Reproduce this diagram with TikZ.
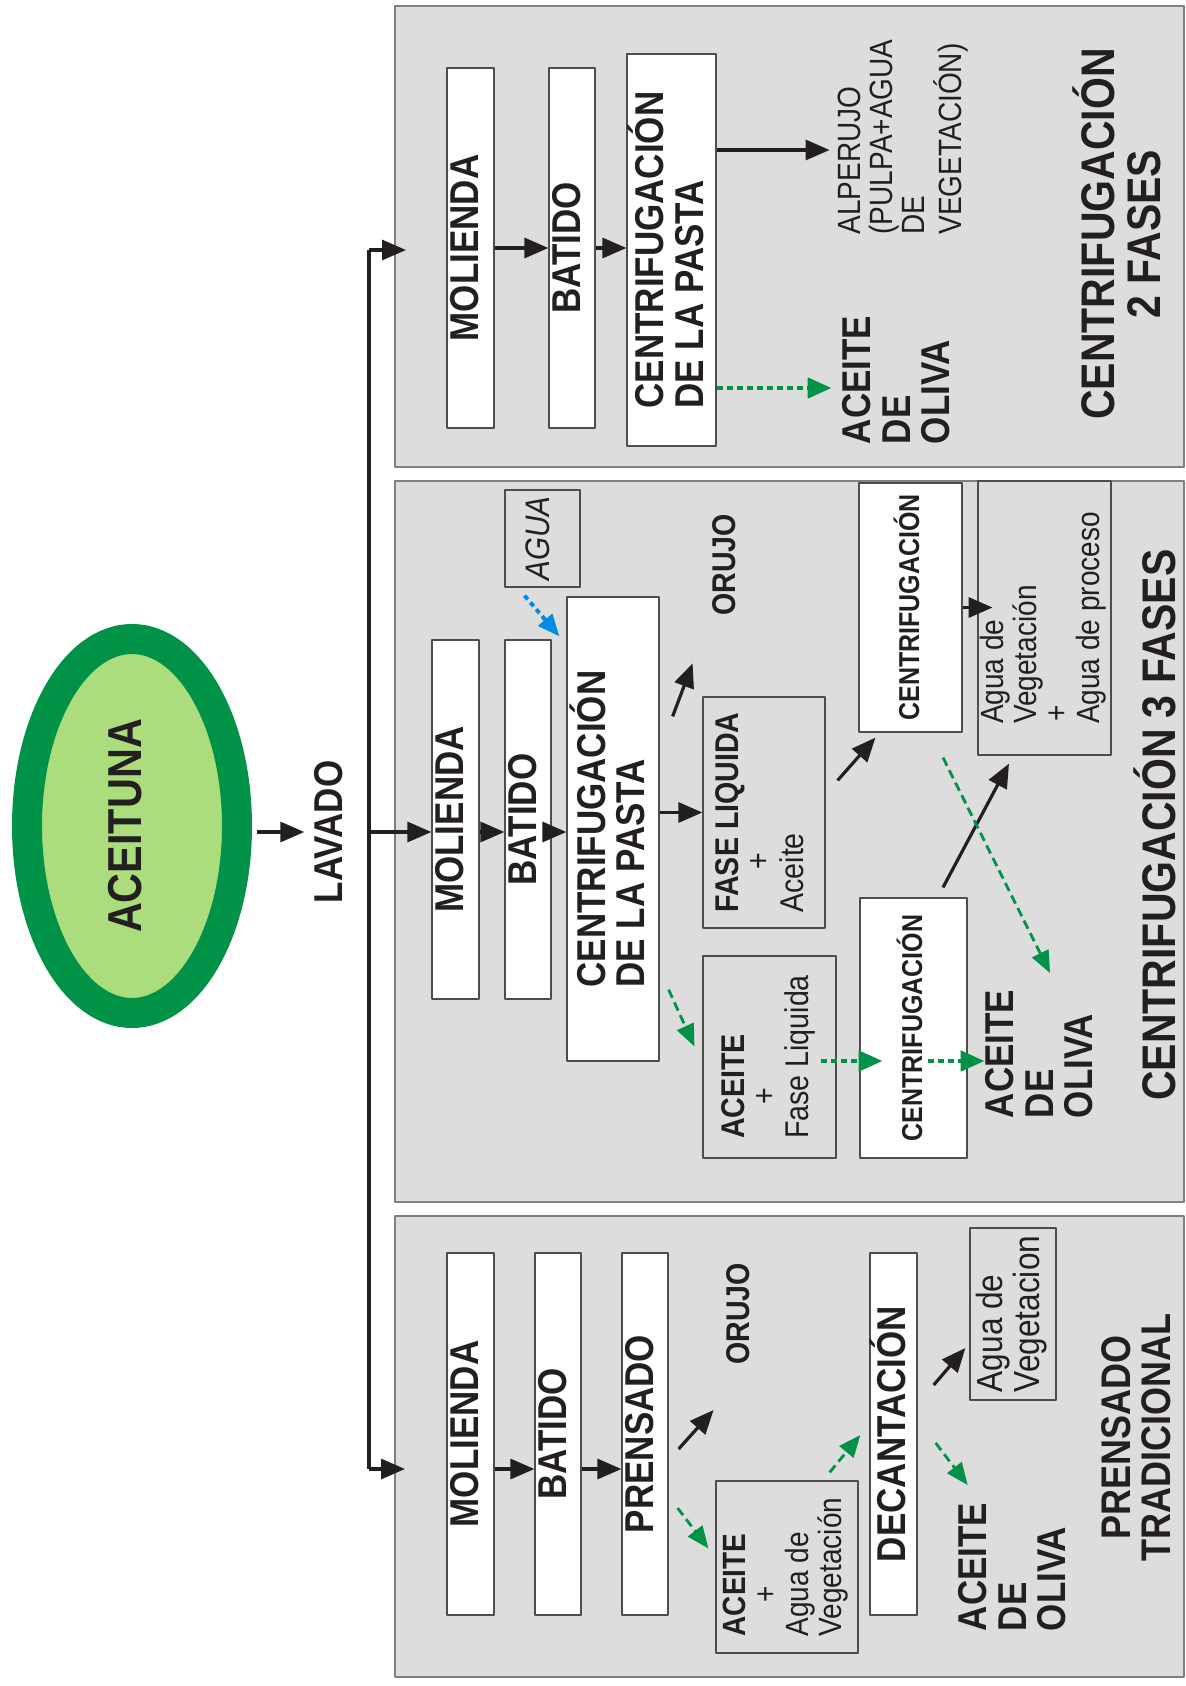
\documentclass[tikz,border=0pt]{standalone}
\usepackage{fontspec}
\setmainfont{Liberation Sans}
\usepackage{graphicx}
\usetikzlibrary{arrows.meta,calc,shapes.geometric}

\definecolor{negro}{RGB}{35,31,32}
\definecolor{verdeoliva}{RGB}{0,146,70}
\definecolor{verdeclaro}{RGB}{171,221,125}
\definecolor{grisfondo}{RGB}{221,221,221}
\definecolor{azulagua}{RGB}{0,140,230}

% texto girado (se lee de abajo hacia arriba)
\newcommand{\vtext}[2][l]{\rotatebox{90}{\scalebox{1}[1.15]{\begin{tabular}{@{}#1@{}}#2\end{tabular}}}}
\renewcommand{\arraystretch}{0.95}

\tikzset{
  panelbox/.style={draw=gray, fill=grisfondo, line width=0.8pt},
  stepbox/.style={draw=negro!80, fill=white, line width=0.6pt, inner sep=0pt, text=negro},
  sidebox/.style={draw=negro!80, line width=0.6pt, inner sep=0pt, text=negro},
  etiq/.style={inner sep=0pt, text=negro},
  fbig/.style={font=\fontsize{17.5}{17.5}\selectfont\bfseries},
  ftit/.style={font=\fontsize{20.5}{20.5}\selectfont\bfseries},
  fmed/.style={font=\fontsize{14}{14}\selectfont},
  fmedb/.style={font=\fontsize{14.3}{14.3}\selectfont\bfseries},
  fcen/.style={font=\fontsize{12.5}{12.5}\selectfont\bfseries},
  flecha/.style={draw=negro, line width=1.6pt, -{Triangle[length=12pt,width=10pt]}},
  aceitefl/.style={draw=verdeoliva, line width=2.4pt, dash pattern=on 3pt off 2pt, -{Triangle[length=12pt,width=10pt]}},
  aceitediag/.style={draw=verdeoliva, line width=1.4pt, dash pattern=on 4.5pt off 2.5pt, -{Triangle[length=11pt,width=9pt]}},
  aguafl/.style={draw=azulagua, line width=2pt, dash pattern=on 2.5pt off 2pt, -{Triangle[length=11pt,width=9pt]}},
}

\begin{document}
\begin{tikzpicture}[x=0.5pt, y=-0.5pt, line join=round]
    \useasboundingbox (0,0) rectangle (1186,1686);
    \fill[white] (0,0) rectangle (1186,1686);

    % paneles de fondo
    \draw[panelbox] (395,6) rectangle (1184,467);
    \draw[panelbox] (395,481) rectangle (1184,1202);
    \draw[panelbox] (395,1216) rectangle (1184,1677);

    % aceituna y lavado
    \node[ellipse, draw=verdeoliva, fill=verdeclaro, line width=15pt, minimum width=105pt, minimum height=187pt,
          inner sep=0pt, outer sep=0pt, text=negro, font=\fontsize{20.7}{20.7}\selectfont\bfseries] (aceituna) at (132,826) {\vtext{ACEITUNA}};
    \node[etiq, fbig] (lavado) at (334.5,832) {\vtext{LAVADO}};
    \draw[flecha, shorten <=10pt, shorten >=5pt] (aceituna.east |- lavado) -- (lavado.west);

    % linea de reparto
    \coordinate (bus2) at (369,250);
    \coordinate (bus3) at (369,832);
    \coordinate (bus1) at (369,1469);
    \draw[negro, line width=1.8pt] (bus2) -- (bus1);

    % centrifugacion 2 fases
    \node[stepbox, fbig, minimum width=23.5pt, minimum height=180pt] (mol2) at (470.5,248) {\vtext{MOLIENDA}};
    \node[stepbox, fbig, minimum width=23pt, minimum height=180pt] (bat2) at (572,248) {\vtext{BATIDO}};
    \node[stepbox, fbig, minimum width=44.5pt, minimum height=196pt] (cen2) at (671.5,250) {\vtext{CENTRIFUGACIÓN\\DE LA PASTA}};
    \node[etiq, fmed] (alp2) at (904,137) {\vtext{ALPERUJO\\(PULPA+AGUA\\DE\\VEGETACIÓN)}};
    \node[etiq, fbig] (ace2) at (902,380) {\vtext{ACEITE\\DE\\OLIVA}};
    \node[etiq, ftit] (tit2) at (1123,234) {\vtext[c]{CENTRIFUGACIÓN\\2 FASES}};
    \draw[flecha] (bus2) -- ++(37,0);
    \draw[flecha] (mol2.east) -- (bat2.west);
    \draw[flecha] (bat2.east) -- (cen2.west |- bat2.east);
    \draw[flecha] ($(cen2.east)+(0,-100)$) -- ++(113,0);
    \draw[aceitefl] ($(cen2.east)+(0,138)$) -- ++(115,0);

    % centrifugacion 3 fases
    \node[sidebox, font=\fontsize{14.8}{14.8}\selectfont\itshape, minimum width=37.5pt, minimum height=48.5pt] (agua3) at (542.5,538.5) {\vtext{AGUA}};
    \node[stepbox, fbig, minimum width=23.5pt, minimum height=179.5pt] (mol3) at (455.5,819.5) {\vtext{MOLIENDA}};
    \node[stepbox, fbig, minimum width=23pt, minimum height=179.5pt] (bat3) at (528,819.5) {\vtext{BATIDO}};
    \node[stepbox, fbig, minimum width=46pt, minimum height=232pt] (cen3) at (613,829) {\vtext{CENTRIFUGACIÓN\\DE LA PASTA}};
    \node[etiq, fmedb] (oru3) at (728.5,565) {\vtext{ORUJO}};
    \node[sidebox, font=\fontsize{14.3}{14.3}\selectfont, minimum width=61pt, minimum height=115.5pt] (fase3) at (764,812.5)
        {\vtext{\bfseries FASE LIQUIDA\\\hspace{1.5em}+\\Aceite}};
    \node[stepbox, fcen, minimum width=51.5pt, minimum height=124.5pt] (cu3) at (910.5,607.5) {\vtext{CENTRIFUGACIÓN}};
    \node[sidebox, fmed, minimum width=66.5pt, minimum height=137pt] (agv3) at (1044.5,618)
        {\vtext{Agua de\\Vegetación\\\hspace{0.1em}+\\Agua de proceso}};
    \node[sidebox, font=\fontsize{14.3}{14.3}\selectfont, minimum width=66.5pt, minimum height=101pt] (acf3) at (769.5,1057)
        {\vtext{\bfseries ACEITE\\\hspace{1.2em}+\\Fase Liquida}};
    \node[stepbox, fcen, minimum width=53.5pt, minimum height=130pt] (cl3) at (913.5,1028) {\vtext{CENTRIFUGACIÓN}};
    \node[etiq, fbig] (ace3) at (1045,1054) {\vtext{ACEITE\\DE\\OLIVA}};
    \node[etiq, ftit] (tit3) at (1161,825) {\vtext{CENTRIFUGACIÓN 3 FASES}};
    \draw[flecha] (bus3) -- (bus3 -| mol3.west);
    \draw[flecha] (bus3 -| mol3.east) -- (bus3 -| bat3.west);
    \draw[flecha] (bus3 -| bat3.east) -- (bus3 -| cen3.west);
    \draw[aguafl] ($(agua3.south)+(-18,8)$) -- ($(cen3.north west)+(-7,40)$);
    \draw[flecha] ($(cen3.north east)+(13,120)$) -- ($(cen3.north east)+(33,67)$);
    \draw[flecha] (cen3.east |- fase3) -- (fase3.west);
    \draw[flecha] ($(fase3.north east)+(12,84)$) -- ($(cu3.south west)+(17,5)$);
    \draw[flecha] (cu3.east) -- ++(30,0);
    \draw[flecha] ($(cl3.north)+(29.5,-10)$) -- ($(agv3.south)+(-35.5,8)$);
    \draw[aceitediag] ($(cu3.south)+(32.5,25)$) -- ($(ace3.center)+(5,-81)$);
    \draw[aceitediag] ($(cen3.south east)+(9,-72)$) -- ($(acf3.north west)+(-8,91)$);
    \draw[aceitefl] ($(acf3.east)+(-16,4)$) -- ++(62,0);
    \draw[aceitefl] ($(cl3.east)+(-40,33)$) -- ++(57,0);

    % prensado tradicional
    \node[stepbox, fbig, minimum width=23.5pt, minimum height=181pt] (mol1) at (470.5,1434) {\vtext{MOLIENDA}};
    \node[stepbox, fbig, minimum width=23pt, minimum height=181pt] (bat1) at (558,1434) {\vtext{BATIDO}};
    \node[stepbox, fbig, minimum width=23pt, minimum height=181pt] (pre1) at (645,1434) {\vtext{PRENSADO}};
    \node[etiq, fmedb] (oru1) at (743,1314) {\vtext{ORUJO}};
    \node[sidebox, fmed, minimum width=71pt, minimum height=86pt] (aav1) at (787,1567)
        {\vtext{\bfseries ACEITE\\\hspace{1.2em}+\\Agua de\\Vegetación}};
    \node[stepbox, fbig, minimum width=22.5pt, minimum height=181pt] (dec1) at (893.5,1434) {\vtext{DECANTACIÓN}};
    \node[sidebox, font=\fontsize{15.8}{15.8}\selectfont, minimum width=43pt, minimum height=86pt] (agv1) at (1013,1314)
        {\vtext{Agua de\\Vegetacion}};
    \node[etiq, fbig] (ace1) at (1018,1567) {\vtext{ACEITE\\DE\\OLIVA}};
    \node[etiq, font=\fontsize{18}{18}\selectfont\bfseries] (tit1) at (1142,1437) {\vtext[c]{PRENSADO\\TRADICIONAL}};
    \draw[flecha] (bus1) -- ++(36,0);
    \draw[flecha] (bus1 -| mol1.east) -- (bus1 -| bat1.west);
    \draw[flecha] (bus1 -| bat1.east) -- (bus1 -| pre1.west);
    \draw[flecha] ($(pre1.east)+(10,15)$) -- ($(pre1.east)+(45,-24)$);
    \draw[aceitediag] ($(pre1.east)+(9,74)$) -- ($(aav1.north west)+(-7,68)$);
    \draw[aceitediag] ($(aav1.north east)+(-29,-8)$) -- ($(dec1.west)+(-9,1)$);
    \draw[flecha] ($(dec1.east)+(16,-49)$) -- ($(agv1.west)+(-4,34)$);
    \draw[aceitediag] ($(dec1.east)+(18,9)$) -- ($(dec1.east)+(50,51)$);
\end{tikzpicture}
\end{document}
